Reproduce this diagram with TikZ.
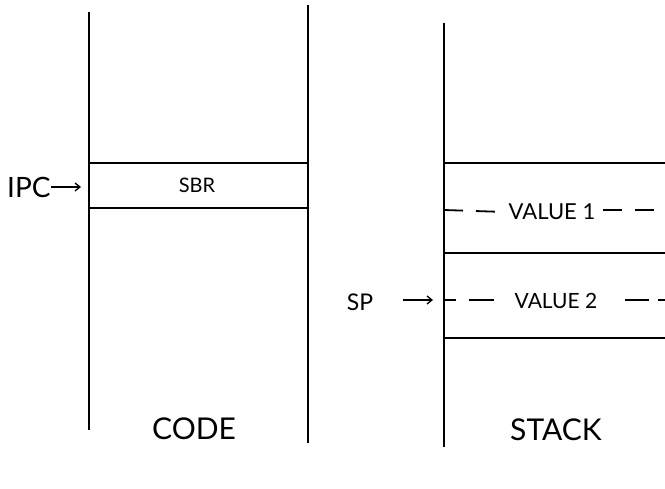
\documentclass[tikz,border=0pt]{standalone}
\usepackage{fontspec}
\setmainfont{Lato}
\usetikzlibrary{arrows.meta}
\begin{document}
\begin{tikzpicture}[x=1pt,y=-1pt,
  vline/.style={line width=1.8pt},
  hline/.style={line width=2.3pt},
  dline/.style={line width=1.8pt, dash pattern=on 19pt off 13pt},
  ptr/.style={line width=1.3pt, -{Straight Barb[length=5pt,width=8pt]}},
  lbl/.style={inner sep=0pt, font=\fontsize{#1}{#1}\selectfont},
]
\useasboundingbox (0,0) rectangle (665,489);
% code column
\coordinate (c1t) at (89,12);   \coordinate (c1b) at (89,430);
\coordinate (c2t) at (308,5);   \coordinate (c2b) at (308,443);
\draw[vline] (c1t) -- (c1b);
\draw[vline] (c2t) -- (c2b);
\coordinate (cA) at (89,163); \coordinate (cA2) at (308,163);
\coordinate (cB) at (89,208); \coordinate (cB2) at (308,208);
\draw[hline] (cA) -- (cA2);
\draw[hline] (cB) -- (cB2);
\node[lbl=20] (sbr) at (197,185) {SBR};
\node[lbl=28, anchor=west] (ipc) at (7,187) {IPC};
\coordinate (ipcT) at (81,187);
\draw[ptr] (ipc.east) ++(0,0) -- (ipcT);
\node[lbl=30] (code) at (194,428.5) {CODE};
% stack column
\coordinate (s1t) at (444,23); \coordinate (s1b) at (444,447);
\draw[vline] (s1t) -- (s1b);
\coordinate (sA) at (444,163); \coordinate (sA2) at (665,163);
\coordinate (sB) at (444,253); \coordinate (sB2) at (665,253);
\coordinate (sC) at (444,338); \coordinate (sC2) at (665,338);
\draw[hline] (sA) -- (sA2);
\draw[hline] (sB) -- (sB2);
\draw[hline] (sC) -- (sC2);
\node[lbl=22] (v1) at (552,212) {VALUE 1};
\node[lbl=21] (v2) at (556,301) {VALUE 2};
\coordinate (v1L) at (444,210); \coordinate (v1R) at (665,210);
\coordinate (v2L) at (444,300); \coordinate (v2R) at (665,300);
\draw[dline] (v1L) -- (v1.west -| 505,210);
\draw[dline, dash phase=-3pt] (600,210) -- (v1R);
\draw[dline, dash pattern=on 12pt off 13pt on 25pt off 13pt] (v2L) -- (494,300);
\draw[dline, dash pattern=on 24pt off 9pt on 9pt off 13pt] (625,300) -- (v2R);
\node[lbl=23] (sp) at (360,302) {SP};
\coordinate (spT) at (433,300);
\draw[ptr] (403,300) -- (spT);
\node[lbl=30] (stack) at (556,429.5) {STACK};
\end{tikzpicture}
\end{document}
